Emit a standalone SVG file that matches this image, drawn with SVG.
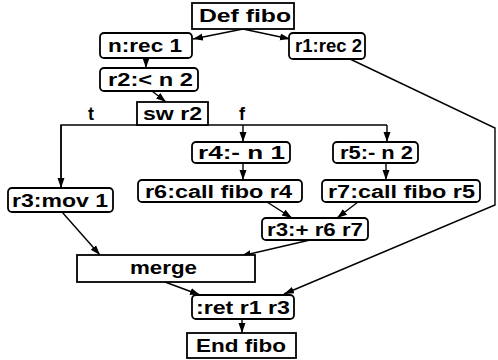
<svg xmlns="http://www.w3.org/2000/svg" width="498" height="360" viewBox="0 0 498 360">
<style>
.box{fill:#fff;stroke:#000;stroke-width:1.8}
.t{font-family:"Liberation Sans",Arial,Helvetica,sans-serif;font-weight:bold;font-size:18px;fill:#000}
.e{fill:none;stroke:#000;stroke-width:1.4}
</style>
<defs>
<marker id="ah" markerUnits="userSpaceOnUse" markerWidth="11" markerHeight="8" refX="10" refY="3.5" orient="auto">
<path d="M0,0 L10,3.5 L0,7 z" fill="#000"/>
</marker>
</defs>
<rect width="498" height="360" fill="#fff"/>
<g id="connectors">
<line class="e" x1="243" y1="29" x2="193" y2="39" marker-end="url(#ah)"/>
<line class="e" x1="243" y1="29" x2="290" y2="39" marker-end="url(#ah)"/>
<line class="e" x1="146" y1="58" x2="146" y2="68" marker-end="url(#ah)"/>
<line class="e" x1="152" y1="91" x2="166" y2="102" marker-end="url(#ah)"/>
<polyline class="e" points="61,188 61,125 387,125"/>
<line class="e" x1="61" y1="125" x2="61" y2="188" marker-end="url(#ah)"/>
<line class="e" x1="243" y1="125" x2="243" y2="142" marker-end="url(#ah)"/>
<line class="e" x1="387" y1="125" x2="387" y2="142" marker-end="url(#ah)"/>
<line class="e" x1="243" y1="163" x2="243" y2="180" marker-end="url(#ah)"/>
<line class="e" x1="386" y1="163" x2="386" y2="180" marker-end="url(#ah)"/>
<line class="e" x1="267" y1="202" x2="292" y2="218" marker-end="url(#ah)"/>
<line class="e" x1="358" y1="202" x2="337" y2="218" marker-end="url(#ah)"/>
<line class="e" x1="62" y1="212" x2="100" y2="255" marker-end="url(#ah)"/>
<line class="e" x1="310" y1="240" x2="241" y2="256" marker-end="url(#ah)"/>
<polyline class="e" points="350,59 495,128 495,205 284,294" marker-end="url(#ah)"/>
<line class="e" x1="165" y1="282" x2="200" y2="295" marker-end="url(#ah)"/>
<line class="e" x1="242" y1="319" x2="242" y2="333" marker-end="url(#ah)"/>
</g>
<g id="def_fibo"><rect class="box" x="192" y="3" width="102" height="26"/><text class="t" x="199" y="22" textLength="92" lengthAdjust="spacingAndGlyphs">Def fibo</text></g>
<g id="n_rec1"><rect class="box" x="100" y="33" width="92" height="25" rx="4"/><text class="t" x="108" y="52" textLength="74" lengthAdjust="spacingAndGlyphs">n:rec 1</text></g>
<g id="r1_rec2"><rect class="box" x="289" y="33" width="76" height="26" rx="4"/><text class="t" x="295" y="52" textLength="67" lengthAdjust="spacingAndGlyphs">r1:rec 2</text></g>
<g id="r2_lt"><rect class="box" x="100" y="68" width="98" height="23" rx="4"/><text class="t" x="108" y="86" textLength="85" lengthAdjust="spacingAndGlyphs">r2:&lt; n 2</text></g>
<g id="sw_r2"><rect class="box" x="137" y="102" width="71" height="23"/><text class="t" x="143" y="120" textLength="59" lengthAdjust="spacingAndGlyphs">sw r2</text></g>
<g id="labels"><text class="t" x="88" y="120">t</text><text class="t" x="239" y="120">f</text></g>
<g id="r3_mov"><rect class="box" x="8" y="188" width="105" height="24" rx="4"/><text class="t" x="12" y="207" textLength="96" lengthAdjust="spacingAndGlyphs">r3:mov 1</text></g>
<g id="r4_sub"><rect class="box" x="192" y="142" width="98" height="21" rx="4"/><text class="t" x="198" y="159" textLength="87" lengthAdjust="spacingAndGlyphs">r4:- n 1</text></g>
<g id="r5_sub"><rect class="box" x="333" y="142" width="85" height="21" rx="4"/><text class="t" x="340" y="159" textLength="73" lengthAdjust="spacingAndGlyphs">r5:- n 2</text></g>
<g id="r6_call"><rect class="box" x="138" y="180" width="164" height="22" rx="4"/><text class="t" x="145" y="198" textLength="147" lengthAdjust="spacingAndGlyphs">r6:call fibo r4</text></g>
<g id="r7_call"><rect class="box" x="322" y="180" width="158" height="22" rx="4"/><text class="t" x="328" y="198" textLength="147" lengthAdjust="spacingAndGlyphs">r7:call fibo r5</text></g>
<g id="r3_add"><rect class="box" x="262" y="218" width="106" height="22" rx="4"/><text class="t" x="267" y="236" textLength="96" lengthAdjust="spacingAndGlyphs">r3:+ r6 r7</text></g>
<g id="merge"><rect class="box" x="77" y="255" width="178" height="27"/><text class="t" x="130" y="274" textLength="67" lengthAdjust="spacingAndGlyphs">merge</text></g>
<g id="ret"><rect class="box" x="192" y="295" width="102" height="24" rx="4"/><text class="t" x="196" y="314" textLength="94" lengthAdjust="spacingAndGlyphs">:ret r1 r3</text></g>
<g id="end_fibo"><rect class="box" x="187" y="333" width="109" height="25"/><text class="t" x="196" y="352" textLength="90" lengthAdjust="spacingAndGlyphs">End fibo</text></g>
</svg>
